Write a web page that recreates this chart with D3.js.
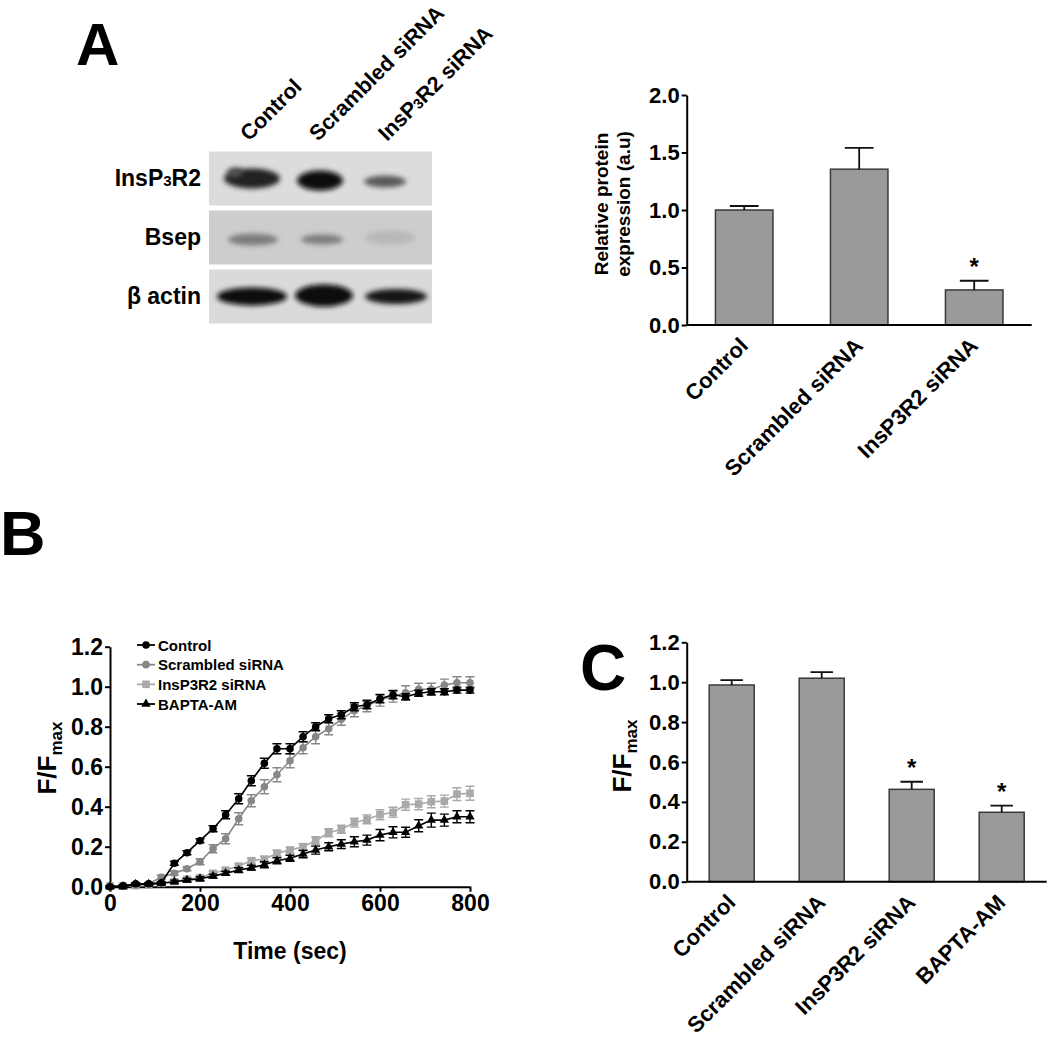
<!DOCTYPE html>
<html>
<head>
<meta charset="utf-8">
<script src="https://cdn.jsdelivr.net/npm/d3@7"></script>
<style>
  body { margin: 0; background: #fff; }
  svg { display: block; font-family: "Liberation Sans", Arial, sans-serif; font-weight: bold; }
</style>
</head>
<body>
<svg width="1050" height="1039"></svg>
<script>
// ---- data ----
const blotLanes = ['Control', 'Scrambled siRNA', 'InsP3R2 siRNA']
const blotRows = ['InsP3R2', 'Bsep', 'β actin']
const bandInsP3R2 = [0.9, 1.0, 0.6]
const bandBsep = [0.42, 0.42, 0.12]
const bandActin = [1.0, 1.0, 0.95]

const protCats = ['Control', 'Scrambled siRNA', 'InsP3R2 siRNA']
const protMean = [1.0, 1.355, 0.305]
const protErr = [0.035, 0.185, 0.08]
const protSig = [false, false, true]

const timeSec = [0, 29, 57, 86, 114, 143, 171, 200, 229, 257, 286, 314, 343, 371, 400,
  429, 457, 486, 514, 543, 571, 600, 629, 657, 686, 714, 743, 771, 800]
const ctrlMean = [0.0, 0.005, 0.015, 0.015, 0.02, 0.117, 0.17, 0.23, 0.29, 0.36, 0.44, 0.53, 0.617, 0.69, 0.69,
  0.75, 0.80, 0.84, 0.86, 0.90, 0.91, 0.94, 0.96, 0.95, 0.967, 0.975, 0.975, 0.983, 0.983]
const ctrlErr = [0.005, 0.005, 0.005, 0.005, 0.005, 0.01, 0.01, 0.01, 0.015, 0.02, 0.025, 0.025, 0.025, 0.025, 0.025,
  0.025, 0.02, 0.02, 0.02, 0.02, 0.02, 0.02, 0.02, 0.015, 0.015, 0.015, 0.015, 0.015, 0.015]
const scrMean = [0.0, 0.005, 0.01, 0.015, 0.047, 0.067, 0.09, 0.125, 0.19, 0.24, 0.34, 0.43, 0.50, 0.56, 0.63,
  0.695, 0.75, 0.79, 0.837, 0.88, 0.905, 0.933, 0.953, 0.97, 0.987, 0.987, 1.008, 1.02, 1.02]
const scrErr = [0.005, 0.005, 0.005, 0.005, 0.01, 0.01, 0.01, 0.015, 0.02, 0.025, 0.03, 0.03, 0.035, 0.035, 0.035,
  0.03, 0.035, 0.03, 0.03, 0.03, 0.03, 0.03, 0.03, 0.035, 0.03, 0.03, 0.03, 0.03, 0.03]
const ipMean = [0.005, 0.005, 0.005, 0.008, 0.017, 0.025, 0.037, 0.045, 0.067, 0.083, 0.103, 0.13, 0.137, 0.167, 0.183,
  0.20, 0.23, 0.27, 0.287, 0.32, 0.337, 0.36, 0.372, 0.41, 0.413, 0.425, 0.428, 0.463, 0.467]
const ipErr = [0.005, 0.005, 0.005, 0.005, 0.005, 0.008, 0.01, 0.01, 0.01, 0.01, 0.012, 0.012, 0.015, 0.015, 0.015,
  0.015, 0.02, 0.02, 0.02, 0.022, 0.022, 0.025, 0.025, 0.028, 0.028, 0.03, 0.03, 0.032, 0.035]
const baptaMean = [0.0, 0.0, 0.013, 0.013, 0.017, 0.025, 0.033, 0.04, 0.053, 0.067, 0.083, 0.095, 0.11, 0.13, 0.142,
  0.163, 0.183, 0.20, 0.213, 0.225, 0.233, 0.258, 0.272, 0.272, 0.305, 0.333, 0.333, 0.35, 0.35]
const baptaErr = [0.005, 0.005, 0.005, 0.005, 0.005, 0.008, 0.008, 0.01, 0.01, 0.01, 0.012, 0.012, 0.015, 0.015, 0.015,
  0.018, 0.02, 0.02, 0.022, 0.025, 0.025, 0.028, 0.028, 0.025, 0.03, 0.035, 0.03, 0.03, 0.03]

const caCats = ['Control', 'Scrambled siRNA', 'InsP3R2 siRNA', 'BAPTA-AM']
const caMean = [0.986, 1.02, 0.463, 0.348]
const caErr = [0.024, 0.031, 0.038, 0.033]
const caSig = [false, false, true, true]

const svg = d3.select('svg')
const fontFam = '"Liberation Sans", Arial, sans-serif'

// ---- panel letters ----
svg.append('text').attr('x', 76).attr('y', 65).attr('font-size', 60).text('A')
svg.append('text').attr('x', 0).attr('y', 555).attr('font-size', 63).text('B')
svg.append('text').attr('x', 580).attr('y', 690).attr('font-size', 64).text('C')

// ---- western blot ----
const defs = svg.append('defs')
defs.append('filter').attr('id', 'blur')
  .attr('x', '-50%').attr('y', '-80%').attr('width', '200%').attr('height', '260%')
  .append('feGaussianBlur').attr('stdDeviation', 2.6)

const laneX = d3.scalePoint().domain(blotLanes).range([252, 390])
const rowY = d3.scalePoint().domain(blotRows).range([178.5, 296.5])
const panelBg = ['#dcdcdc', '#cdcdcd', '#dadada']
const bandShape = [
  { rx: [28, 23, 21], ry: [10, 10, 6], dx: [0, -1, -5], dy: [0, 2, 3] },
  { rx: [25, 21, 25], ry: [6, 5, 7], dx: [1, 1, 0], dy: [2, 2, 0] },
  { rx: [35, 29, 31], ry: [9, 11, 7.5], dx: [0, 3, 6], dy: [0, -1, 0] }
]
const bandVals = [bandInsP3R2, bandBsep, bandActin]
const inkColor = d3.scaleLinear().domain([0, 1]).range(['#cfcfcf', '#0c0c0c'])

const blot = svg.append('g')
blotRows.forEach((row, r) => {
  const cy = rowY(row)
  blot.append('rect')
    .attr('x', 209).attr('y', cy - 27).attr('width', 223).attr('height', 54)
    .attr('fill', panelBg[r])
  blotLanes.forEach((lane, l) => {
    blot.append('ellipse')
      .attr('cx', laneX(lane) + bandShape[r].dx[l])
      .attr('cy', cy + bandShape[r].dy[l])
      .attr('rx', bandShape[r].rx[l])
      .attr('ry', bandShape[r].ry[l])
      .attr('fill', inkColor(bandVals[r][l]))
      .attr('filter', 'url(#blur)')
  })
  const lab = blot.append('text')
    .attr('x', 201).attr('y', cy + 7).attr('text-anchor', 'end').attr('font-size', 23)
  if (row === 'InsP3R2') {
    lab.append('tspan').text('InsP')
    lab.append('tspan').attr('font-size', 15).text('3')
    lab.append('tspan').text('R2')
  } else {
    lab.text(row)
  }
})
// faint smear on the control InsP3R2 band
blot.append('ellipse')
  .attr('cx', laneX('Control') - 17).attr('cy', rowY('InsP3R2') - 6)
  .attr('rx', 8).attr('ry', 5).attr('fill', inkColor(0.65)).attr('filter', 'url(#blur)')

blotLanes.forEach(lane => {
  const x0 = laneX(lane) - 3
  const y0 = 142
  const t = svg.append('text')
    .attr('transform', `translate(${x0},${y0}) rotate(-45)`)
    .attr('font-size', 21.5)
  if (lane === 'InsP3R2 siRNA') {
    t.append('tspan').text('InsP')
    t.append('tspan').attr('font-size', 14.5).text('3')
    t.append('tspan').text('R2 siRNA')
  } else {
    t.text(lane)
  }
})

// ---- helper for bar charts ----
function barChart(g, cats, means, errs, sig, x, y, opt) {
  g.append('g')
    .attr('transform', `translate(${x.range()[0]},0)`)
    .call(d3.axisLeft(y).tickValues(opt.ticks).tickFormat(d3.format('.1f'))
      .tickSize(5).tickSizeOuter(0).tickPadding(2))
    .call(a => a.selectAll('text').attr('font-size', opt.tickFont)
      .attr('font-family', fontFam).attr('font-weight', 'bold').attr('fill', '#000'))
    .call(a => a.selectAll('line,path').attr('stroke', '#000').attr('stroke-width', 2))

  const bw = x.bandwidth()
  g.selectAll('.bar').data(cats).enter().append('rect')
    .attr('x', d => x(d))
    .attr('y', (d, i) => y(means[i]))
    .attr('width', bw)
    .attr('height', (d, i) => y(0) - y(means[i]))
    .attr('fill', '#9a9a9a').attr('stroke', '#3a3a3a').attr('stroke-width', 1.5)

  g.selectAll('.err').data(cats).enter().append('path')
    .attr('d', (d, i) => {
      const cx = x(d) + bw / 2
      const top = y(means[i] + errs[i])
      return `M${cx},${y(means[i])}V${top}M${cx - bw / 4},${top}H${cx + bw / 4}`
    })
    .attr('stroke', '#111').attr('stroke-width', 1.8).attr('fill', 'none')

  g.selectAll('.star').data(cats.filter((d, i) => sig[i])).enter().append('text')
    .attr('x', d => x(d) + bw / 2)
    .attr('y', d => { const i = cats.indexOf(d); return y(means[i] + errs[i]) - 6 })
    .attr('text-anchor', 'middle').attr('font-size', 24).text('*')

  g.append('line')
    .attr('x1', x.range()[0]).attr('x2', x.range()[1])
    .attr('y1', y(0)).attr('y2', y(0))
    .attr('stroke', '#000').attr('stroke-width', 2)

  g.selectAll('.xl').data(cats).enter().append('text')
    .attr('transform', d => `translate(${x(d) + bw / 2 + 5},${y(0) + 22}) rotate(-45)`)
    .attr('text-anchor', 'end').attr('font-size', opt.labelFont)
    .text(d => d)
}

// ---- A: protein expression ----
const xA = d3.scaleBand().domain(protCats).range([686.7, 1031.7]).paddingInner(0.5).paddingOuter(0.25)
const yA = d3.scaleLinear().domain([0, 2]).range([325, 95])
const gA = svg.append('g')
barChart(gA, protCats, protMean, protErr, protSig, xA, yA,
  { ticks: [0, 0.5, 1, 1.5, 2], tickFont: 22, labelFont: 22 })
gA.append('text')
  .attr('transform', 'translate(608,204) rotate(-90)')
  .attr('text-anchor', 'middle').attr('font-size', 19).text('Relative protein')
gA.append('text')
  .attr('transform', 'translate(630,204) rotate(-90)')
  .attr('text-anchor', 'middle').attr('font-size', 19).text('expression (a.u)')

// ---- C: calcium bar chart ----
const xC = d3.scaleBand().domain(caCats).range([686.7, 1046.7]).paddingInner(0.5).paddingOuter(0.25)
const yC = d3.scaleLinear().domain([0, 1.2]).range([881.7, 642.3])
const gC = svg.append('g')
barChart(gC, caCats, caMean, caErr, caSig, xC, yC,
  { ticks: [0, 0.2, 0.4, 0.6, 0.8, 1.0, 1.2], tickFont: 22, labelFont: 22 })
const labC = gC.append('text')
  .attr('transform', 'translate(631,756) rotate(-90)')
  .attr('text-anchor', 'middle').attr('font-size', 26)
labC.append('tspan').text('F/F')
labC.append('tspan').attr('font-size', 17).attr('dy', 6).text('max')

// ---- B: time course ----
const xB = d3.scaleLinear().domain([0, 800]).range([110, 470])
const yB = d3.scaleLinear().domain([0, 1.2]).range([886.7, 646.7])
const gB = svg.append('g')

gB.append('g')
  .attr('transform', 'translate(110,0)')
  .call(d3.axisLeft(yB).tickValues([0, 0.2, 0.4, 0.6, 0.8, 1.0, 1.2]).tickFormat(d3.format('.1f'))
    .tickSize(5).tickSizeOuter(0).tickPadding(2))
  .call(a => a.selectAll('text').attr('font-size', 23)
    .attr('font-family', fontFam).attr('font-weight', 'bold').attr('fill', '#000'))
  .call(a => a.selectAll('line,path').attr('stroke', '#000').attr('stroke-width', 2))

gB.append('g')
  .attr('transform', 'translate(0,886.7)')
  .call(d3.axisBottom(xB).tickValues([0, 200, 400, 600, 800]).tickFormat(d3.format('d'))
    .tickSize(5).tickSizeOuter(0).tickPadding(3))
  .call(a => a.selectAll('text').attr('font-size', 23)
    .attr('font-family', fontFam).attr('font-weight', 'bold').attr('fill', '#000'))
  .call(a => a.selectAll('line,path').attr('stroke', '#000').attr('stroke-width', 2))

gB.append('text').attr('x', 290).attr('y', 959).attr('text-anchor', 'middle')
  .attr('font-size', 23).text('Time (sec)')
const labB = gB.append('text')
  .attr('transform', 'translate(56,758) rotate(-90)')
  .attr('text-anchor', 'middle').attr('font-size', 26)
labB.append('tspan').text('F/F')
labB.append('tspan').attr('font-size', 17).attr('dy', 6).text('max')

const series = [
  { name: 'InsP3R2 siRNA', mean: ipMean, err: ipErr, color: '#a9a9a9', shape: 'square' },
  { name: 'Scrambled siRNA', mean: scrMean, err: scrErr, color: '#878787', shape: 'circle' },
  { name: 'BAPTA-AM', mean: baptaMean, err: baptaErr, color: '#000', shape: 'triangle' },
  { name: 'Control', mean: ctrlMean, err: ctrlErr, color: '#000', shape: 'circle' }
]
const legendOrder = ['Control', 'Scrambled siRNA', 'InsP3R2 siRNA', 'BAPTA-AM']

function marker(sel, shape, color) {
  if (shape === 'circle') {
    sel.append('circle').attr('r', 3.8).attr('fill', color)
  } else if (shape === 'square') {
    sel.append('rect').attr('x', -3.8).attr('y', -3.8).attr('width', 7.6).attr('height', 7.6).attr('fill', color)
  } else {
    sel.append('path').attr('d', d3.symbol(d3.symbolTriangle, 38)()).attr('fill', color)
  }
}

series.forEach(s => {
  const pts = timeSec.map((t, i) => ({ t, m: s.mean[i], e: s.err[i] }))
  const g = gB.append('g')
  g.selectAll('.eb').data(pts).enter().append('path')
    .attr('d', d => {
      const cx = xB(d.t), y1 = yB(d.m + d.e), y2 = yB(d.m - d.e)
      return `M${cx},${y1}V${y2}M${cx - 4.5},${y1}H${cx + 4.5}M${cx - 4.5},${y2}H${cx + 4.5}`
    })
    .attr('stroke', s.color).attr('stroke-width', 1.4).attr('fill', 'none')
  g.append('path').datum(pts)
    .attr('d', d3.line().x(d => xB(d.t)).y(d => yB(d.m)))
    .attr('stroke', s.color).attr('stroke-width', 1.6).attr('fill', 'none')
  g.selectAll('.mk').data(pts).enter().append('g')
    .attr('transform', d => `translate(${xB(d.t)},${yB(d.m)})`)
    .each(function () { marker(d3.select(this), s.shape, s.color) })
})

const legY = d3.scalePoint().domain(legendOrder).range([645, 704])
legendOrder.forEach(name => {
  const s = series.find(d => d.name === name)
  const row = gB.append('g').attr('transform', `translate(0,${legY(name)})`)
  row.append('line').attr('x1', 137).attr('x2', 155).attr('y1', 0).attr('y2', 0)
    .attr('stroke', s.color).attr('stroke-width', 1.8)
  marker(row.append('g').attr('transform', 'translate(146,0)'), s.shape, s.color)
  row.append('text').attr('x', 158).attr('y', 5.5).attr('font-size', 15).text(name)
})
</script>
</body>
</html>
